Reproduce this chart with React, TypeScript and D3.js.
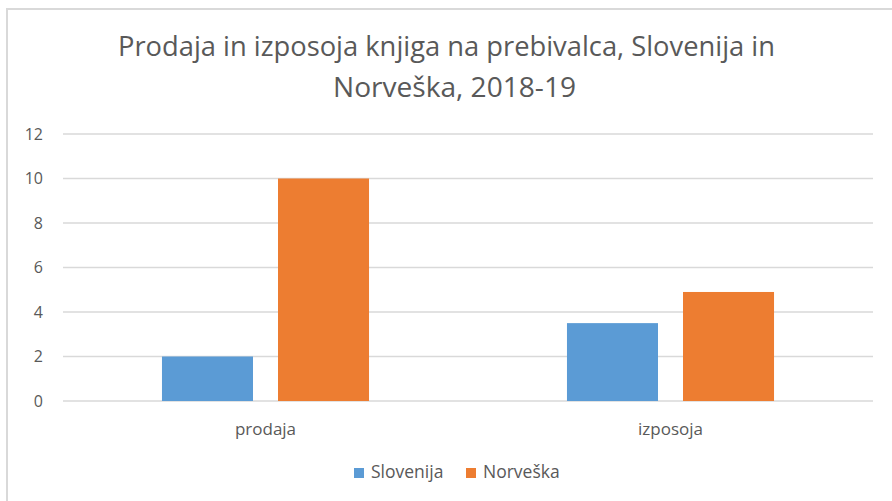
import React from "react";
import * as d3 from "d3";

const categories = ["prodaja", "izposoja"];
const seriesNames = ["Slovenija", "Norveška"];
const slovenija = [2, 3.5];
const norveska = [10, 4.9];
const yTicks = [0, 2, 4, 6, 8, 10, 12];
const colors = ["#5B9BD5", "#ED7D31"];
const titleLines = ["Prodaja in izposoja knjiga na prebivalca, Slovenija in", "Norveška, 2018-19"];

const W = 892;
const H = 501;
const FONT = "'Open Sans', 'Noto Sans', sans-serif";

export default function App() {
  const values = [slovenija, norveska];
  const x0 = d3.scaleBand<string>().domain(categories).range([63, 873]).paddingInner(0).paddingOuter(0);
  const x1 = d3.scaleBand<string>().domain(seriesNames).range([0, x0.bandwidth()]).paddingInner(0.2155).paddingOuter(0.853);
  const y = d3.scaleLinear().domain([0, 12]).range([401, 134]);
  const titleX = [446.5, 454.5];
  const titleY = [56, 97];
  const titleLen = [657, 243];

  return (
    <svg width={W} height={H} style={{ position: "absolute", left: 0, top: 0, background: "#fff" }}>
      <rect x={7} y={9} width={W} height={H} fill="#fff" stroke="#d9d9d9" strokeWidth={2} />
      {titleLines.map((t, i) => (
        <text key={i} x={titleX[i]} y={titleY[i]} textAnchor="middle" fontFamily={FONT} fontWeight={400} fontSize={28} fill="#595959" textLength={titleLen[i]} lengthAdjust="spacingAndGlyphs">
          {t}
        </text>
      ))}
      {yTicks.map((t) => (
        <g key={t}>
          <line x1={63} x2={873} y1={y(t)} y2={y(t)} stroke="#d9d9d9" strokeWidth={1.5} />
          <text x={43} y={y(t)} dy="0.35em" textAnchor="end" fontFamily={FONT} fontSize={16} fill="#595959">
            {t}
          </text>
        </g>
      ))}
      {categories.map((c, ci) => (
        <g key={c} transform={`translate(${x0(c)},0)`}>
          {seriesNames.map((s, si) => (
            <rect key={s} x={x1(s)} width={x1.bandwidth()} y={y(values[si][ci])} height={y(0) - y(values[si][ci])} fill={colors[si]} />
          ))}
          <text x={x0.bandwidth() / 2} y={435} textAnchor="middle" fontFamily={FONT} fontSize={17} fill="#595959">
            {c}
          </text>
        </g>
      ))}
      {seriesNames.map((s, i) => {
        const lx = [354, 466][i];
        return (
          <g key={s}>
            <rect x={lx} y={468} width={10} height={10} fill={colors[i]} />
            <text x={lx + 17} y={478} fontFamily={FONT} fontSize={17.5} fill="#595959">
              {s}
            </text>
          </g>
        );
      })}
    </svg>
  );
}
